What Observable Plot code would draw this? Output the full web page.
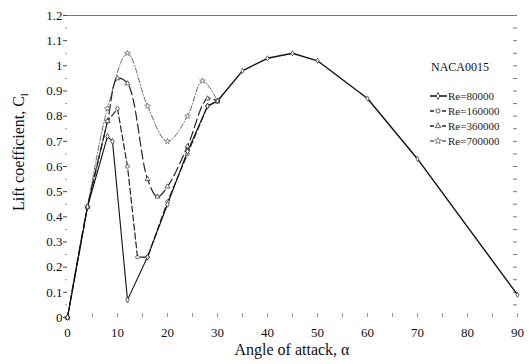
<!DOCTYPE html>
<html><head><meta charset="utf-8">
<script src="https://cdn.jsdelivr.net/npm/d3@7"></script>
<script src="https://cdn.jsdelivr.net/npm/@observablehq/plot@0.6"></script>
<style>body{margin:0;background:#fff;}</style>
</head><body><div id="chart"></div>
<script>
// ---- data ----
const seriesNames = ["Re=80000", "Re=160000", "Re=360000", "Re=700000"];
const alpha80  = [0, 4, 8, 9, 12, 16, 20, 24, 28, 30];
const cl80     = [0, 0.44, 0.72, 0.70, 0.07, 0.24, 0.45, 0.66, 0.84, 0.86];
const alpha160 = [0, 4, 8, 10, 12, 14, 16, 20, 24, 28, 30];
const cl160    = [0, 0.44, 0.78, 0.83, 0.60, 0.24, 0.24, 0.46, 0.65, 0.84, 0.86];
const alpha360 = [0, 4, 8, 10, 12, 16, 18, 20, 24, 28, 30];
const cl360    = [0, 0.44, 0.78, 0.95, 0.93, 0.55, 0.48, 0.52, 0.68, 0.87, 0.86];
const alpha700 = [0, 4, 8, 12, 16, 20, 24, 27, 30];
const cl700    = [0, 0.44, 0.83, 1.05, 0.84, 0.70, 0.80, 0.94, 0.86];
// post-stall branch shared by all Reynolds numbers
const tailAlpha = [30, 35, 40, 45, 50, 60, 70, 90];
const tailCl    = [0.86, 0.98, 1.03, 1.05, 1.02, 0.87, 0.63, 0.09];
const xTicks = [0, 10, 20, 30, 40, 50, 60, 70, 80, 90];
const xMinor = [5, 15, 25, 35, 45, 55, 65, 75, 85];
const yTicks = [0, 0.1, 0.2, 0.3, 0.4, 0.5, 0.6, 0.7, 0.8, 0.9, 1, 1.1, 1.2];
const yMinor = [0.05, 0.15, 0.25, 0.35, 0.45, 0.55, 0.65, 0.75, 0.85, 0.95, 1.05, 1.15];
const yRight = [0.05, 0.1, 0.15, 0.2, 0.25, 0.3, 0.35, 0.4, 0.45, 0.5, 0.55, 0.6, 0.65, 0.7, 0.75, 0.8, 0.85, 0.9, 0.95, 1, 1.05, 1.1, 1.15];
const annotation = "NACA0015";

// ---- build tables ----
const raw = [[alpha80, cl80], [alpha160, cl160], [alpha360, cl360], [alpha700, cl700]];
const series = seriesNames.map((name, i) =>
  raw[i][0].map((a, j) => ({series: name, a, cl: raw[i][1][j]})));
const tail = tailAlpha.map((a, j) => ({a, cl: tailCl[j]}));

const styles = {
  "Re=80000":  {stroke: "#111", width: 1.1, dash: null, symbol: "diamond", curve: "linear"},
  "Re=160000": {stroke: "#222", width: 1.2, dash: "6,3", symbol: "circle", curve: "linear"},
  "Re=360000": {stroke: "#222", width: 1.2, dash: "9,4", symbol: "triangle", curve: "catmull-rom"},
  "Re=700000": {stroke: "#666", width: 1.0, dash: "5,2,1,2", symbol: "star", curve: "catmull-rom"}
};
const drawOrder = [3, 2, 1, 0];

const marks = [
  Plot.ruleY([1.2], {stroke: "#777", strokeWidth: 1.2}),
  Plot.tickX(xMinor.concat(xTicks), {x: d => d, insetTop: 298, stroke: "#999"}),
  Plot.tickY(yRight, {y: d => d, insetLeft: 446, stroke: "#777"}),
  Plot.axisY(yMinor, {tickSize: 2, tickFormat: () => "", stroke: "#999", label: null}),
  Plot.axisY(yTicks, {tickSize: 4, tickPadding: 1, tickFormat: d => String(d), fontSize: 13, stroke: "#444", label: null}),
  Plot.axisX(xTicks, {tickSize: 0, tickPadding: 10, tickFormat: d => String(d), fontSize: 13, label: null}),
  Plot.line(tail, {x: "a", y: "cl", stroke: "#111", strokeWidth: 1.4})
];
for (const i of drawOrder) {
  const s = styles[seriesNames[i]];
  marks.push(Plot.line(series[i], {x: "a", y: "cl", stroke: s.stroke, strokeWidth: s.width, strokeDasharray: s.dash, curve: s.curve}));
}
for (const i of drawOrder) {
  const s = styles[seriesNames[i]];
  marks.push(Plot.dot(series[i], {x: "a", y: "cl", symbol: () => s.symbol, r: 1.8, stroke: s.stroke, strokeWidth: 0.7, fill: "white"}));
}
marks.push(Plot.dot(tail, {x: "a", y: "cl", symbol: () => "diamond", r: 1.6, stroke: "#333", strokeWidth: 0.7, fill: "white"}));

const chart = Plot.plot({
  width: 531, height: 364,
  marginLeft: 67, marginRight: 14, marginTop: 15, marginBottom: 47,
  style: {fontFamily: "'Liberation Serif', 'DejaVu Serif', serif", background: "white", color: "#111"},
  x: {domain: [0, 90], axis: null},
  y: {domain: [0, 1.2], axis: null},
  symbol: {type: "identity"},
  marks
});
document.getElementById("chart").appendChild(chart);

// ---- titles, annotation, legend ----
const svg = d3.select(chart);
const serif = "'Liberation Serif', 'DejaVu Serif', serif";
const yl = svg.append("text").attr("transform", "translate(24,152) rotate(-90)")
  .attr("text-anchor", "middle").attr("font-family", serif).attr("font-size", 16).attr("fill", "#111");
yl.append("tspan").text("Lift coefficient, C");
yl.append("tspan").attr("font-size", 11).attr("dy", 4).text("l");
svg.append("text").attr("x", 292).attr("y", 355).attr("text-anchor", "middle")
  .attr("font-family", serif).attr("font-size", 16).attr("fill", "#111").text("Angle of attack, α");
svg.append("text").attr("x", 431).attr("y", 71).attr("text-anchor", "start")
  .attr("font-family", serif).attr("font-size", 12).attr("fill", "#111").text(annotation);

const sym = {diamond: d3.symbolDiamond, circle: d3.symbolCircle, triangle: d3.symbolTriangle, star: d3.symbolStar};
seriesNames.forEach((name, i) => {
  const s = styles[name];
  const y = 96 + i * 15;
  const g = svg.append("g");
  g.append("line").attr("x1", 430).attr("x2", 447).attr("y1", y).attr("y2", y)
    .attr("stroke", s.stroke).attr("stroke-width", s.width + 0.4).attr("stroke-dasharray", s.dash ? "4,2" : null);
  g.append("path").attr("d", d3.symbol(sym[s.symbol], 14)()).attr("transform", `translate(438,${y})`)
    .attr("fill", "white").attr("stroke", s.stroke).attr("stroke-width", 0.7);
  g.append("text").attr("x", 448).attr("y", y + 4).attr("text-anchor", "start")
    .attr("font-family", serif).attr("font-size", 11).attr("fill", "#222").text(name);
});
</script>
</body></html>
